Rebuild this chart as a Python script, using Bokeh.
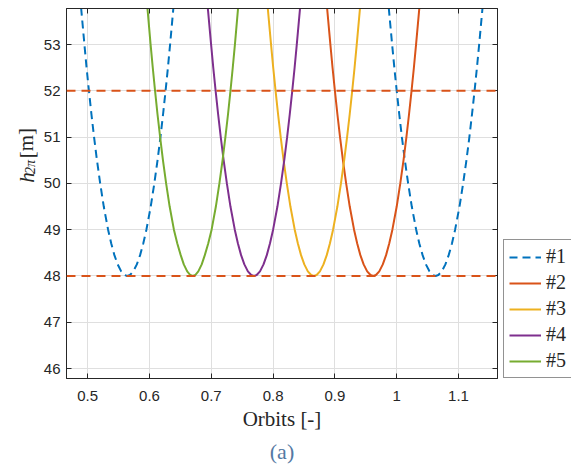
from bokeh.plotting import figure
from bokeh.layouts import row
from bokeh.models import (Range1d, Span, Legend, LegendItem, FixedTicker, Title,
                          LinearAxis)
from bokeh.core.properties import value
from bokeh.embed import file_html
from bokeh.resources import INLINE

# ---------------- data ----------------
X_TICKS = [0.5, 0.6, 0.7, 0.8, 0.9, 1.0, 1.1]
X_TICK_LABELS = ["0.5", "0.6", "0.7", "0.8", "0.9", "1", "1.1"]
Y_TICKS = [46, 47, 48, 49, 50, 51, 52, 53]
Y_TICK_LABELS = ["46", "47", "48", "49", "50", "51", "52", "53"]

LABELS = ["#1", "#2", "#3", "#4", "#5"]
THRESHOLDS = [48.0, 52.0]

# heights at which the branch positions were read (top -> bottom)
H_LEVELS = [53.8, 53.0, 52.5, 52.0, 51.5, 51.0, 50.5, 50.0, 49.5, 49.0,
            48.7, 48.45, 48.25, 48.1, 48.02]
H_MIN = 48.0

# #1 (two wells)
S1A_LEFT = [0.4893, 0.4947, 0.4982, 0.5020, 0.5060, 0.5103, 0.5150, 0.5202,
            0.5260, 0.5330, 0.5381, 0.5432, 0.5485, 0.5542, 0.5596]
S1A_MIN = 0.564
S1A_RIGHT = [0.6387, 0.6333, 0.6298, 0.6260, 0.6220, 0.6177, 0.6130, 0.6078,
             0.6020, 0.5950, 0.5899, 0.5848, 0.5795, 0.5738, 0.5684]
S1B_LEFT = [0.9871, 0.9926, 0.9962, 1.0000, 1.0041, 1.0084, 1.0132, 1.0185,
            1.0244, 1.0315, 1.0366, 1.0419, 1.0472, 1.0530, 1.0586]
S1B_MIN = 1.063
S1B_RIGHT = [1.1389, 1.1334, 1.1298, 1.1260, 1.1219, 1.1176, 1.1128, 1.1075,
             1.1016, 1.0945, 1.0894, 1.0841, 1.0788, 1.0730, 1.0674]
# #2
S2_LEFT = [0.8873, 0.8927, 0.8962, 0.9000, 0.9040, 0.9083, 0.9130, 0.9182,
           0.9240, 0.9310, 0.9361, 0.9412, 0.9465, 0.9522, 0.9576]
S2_MIN = 0.962
S2_RIGHT = [1.0367, 1.0313, 1.0278, 1.0240, 1.0200, 1.0157, 1.0110, 1.0058,
            1.0000, 0.9930, 0.9879, 0.9828, 0.9775, 0.9718, 0.9664]
# #3
S3_LEFT = [0.7913, 0.7967, 0.8002, 0.8040, 0.8080, 0.8123, 0.8170, 0.8222,
           0.8280, 0.8350, 0.8401, 0.8452, 0.8505, 0.8562, 0.8616]
S3_MIN = 0.866
S3_RIGHT = [0.9407, 0.9353, 0.9318, 0.9280, 0.9240, 0.9197, 0.9150, 0.9098,
            0.9040, 0.8970, 0.8919, 0.8868, 0.8815, 0.8758, 0.8704]
# #4
S4_LEFT = [0.6943, 0.6997, 0.7032, 0.7070, 0.7110, 0.7153, 0.7200, 0.7252,
           0.7310, 0.7380, 0.7431, 0.7482, 0.7535, 0.7592, 0.7646]
S4_MIN = 0.769
S4_RIGHT = [0.8437, 0.8383, 0.8348, 0.8310, 0.8270, 0.8227, 0.8180, 0.8128,
            0.8070, 0.8000, 0.7949, 0.7898, 0.7845, 0.7788, 0.7734]
# #5
S5_LEFT = [0.5966, 0.6018, 0.6053, 0.6090, 0.6129, 0.6172, 0.6218, 0.6269,
           0.6326, 0.6395, 0.6450, 0.6505, 0.6555, 0.6610, 0.6660]
S5_MIN = 0.670
S5_RIGHT = [0.7434, 0.7382, 0.7347, 0.7310, 0.7271, 0.7228, 0.7182, 0.7131,
            0.7074, 0.7005, 0.6950, 0.6895, 0.6845, 0.6790, 0.6740]

MINIMA = [S1A_MIN, S2_MIN, S3_MIN, S4_MIN, S5_MIN]
COLORS = ["#0072BD", "#D95319", "#EDB120", "#7E2F8E", "#77AC30"]
DASHES = ["8 5", "solid", "solid", "solid", "solid"]
TEXT = "#262626"


def well(left, xmin, right):
    xs = list(left) + [xmin] + list(reversed(right))
    ys = list(H_LEVELS) + [H_MIN] + list(reversed(H_LEVELS))
    return xs, ys


LEFT_W = 40     # panel for the y-axis label
LEG_W = 68      # panel for the legend
p = figure(width=571 - LEFT_W - LEG_W, height=467, output_backend="svg",
           toolbar_location=None,
           x_range=Range1d(0.4657, 1.1631), y_range=Range1d(45.784, 53.78),
           min_border_left=26, min_border_right=6, min_border_top=8,
           min_border_bottom=89, background_fill_color="white",
           border_fill_color="white")

p.outline_line_color = TEXT
p.outline_line_width = 1

for ax in (p.xaxis, p.yaxis):
    ax.major_tick_in = 5
    ax.major_tick_out = 0
    ax.minor_tick_line_color = None
    ax.axis_line_color = TEXT
    ax.major_tick_line_color = TEXT
    ax.major_label_text_font = "Liberation Sans"
    ax.major_label_text_font_size = "15px"
    ax.major_label_text_color = TEXT

p.xaxis.ticker = FixedTicker(ticks=X_TICKS)
p.xaxis.major_label_overrides = {t: l for t, l in zip(X_TICKS, X_TICK_LABELS)}
p.yaxis.ticker = FixedTicker(ticks=Y_TICKS)
p.yaxis.major_label_overrides = {t: l for t, l in zip(Y_TICKS, Y_TICK_LABELS)}
p.xaxis.major_label_standoff = 12
p.yaxis.major_label_standoff = 6

p.xaxis.axis_label = "Orbits [-]"
p.xaxis.axis_label_text_font = "Liberation Serif"
p.xaxis.axis_label_text_font_style = "normal"
p.xaxis.axis_label_text_font_size = "21px"
p.xaxis.axis_label_text_color = TEXT
p.xaxis.axis_label_standoff = 3

# mirrored inward ticks on the top and right edges (box on)
for loc, tk in (("above", X_TICKS), ("right", Y_TICKS)):
    mirror = LinearAxis(ticker=FixedTicker(ticks=tk), major_tick_in=5,
                        major_tick_out=0, minor_tick_line_color=None,
                        axis_line_color=TEXT, major_tick_line_color=TEXT,
                        major_label_text_font_size="0px",
                        major_label_standoff=0,
                        major_label_overrides={t: "" for t in tk})
    p.add_layout(mirror, loc)

p.xgrid.ticker = FixedTicker(ticks=X_TICKS)
p.ygrid.ticker = FixedTicker(ticks=Y_TICKS)
p.grid.grid_line_color = "#dfdfdf"
p.grid.grid_line_width = 1

# curves
x1a, y1a = well(S1A_LEFT, S1A_MIN, S1A_RIGHT)
x1b, y1b = well(S1B_LEFT, S1B_MIN, S1B_RIGHT)
p.multi_line(xs=[x1a, x1b], ys=[y1a, y1b], line_color=COLORS[0],
             line_width=2, line_dash=DASHES[0])
for (lft, mn, rgt), col in zip([(S2_LEFT, S2_MIN, S2_RIGHT),
                                (S3_LEFT, S3_MIN, S3_RIGHT),
                                (S4_LEFT, S4_MIN, S4_RIGHT),
                                (S5_LEFT, S5_MIN, S5_RIGHT)], COLORS[1:]):
    xs, ys = well(lft, mn, rgt)
    p.line(xs, ys, line_color=col, line_width=2)

for h in THRESHOLDS:
    p.add_layout(Span(location=h, dimension="width", line_color=COLORS[1],
                      line_width=2, line_dash="9 6"))

p.add_layout(Title(text="(a)", align="center",
                   text_font="Liberation Serif", text_font_size="22px",
                   text_font_style="normal", text_color="#5479a3",
                   standoff=6), "below")

# ---- legend panel (legend renderers hold only the wells' minima, which lie
#      outside this panel's own ranges so they draw nothing) ----
r = figure(width=LEG_W, height=467, output_backend="svg",
           toolbar_location=None, x_axis_type=None, y_axis_type=None,
           x_range=Range1d(0, 1), y_range=Range1d(0, 1),
           min_border_left=0, min_border_right=0, min_border_top=8,
           min_border_bottom=89,
           background_fill_color="white", border_fill_color="white")
r.outline_line_color = None
r.grid.visible = False
leg_renderers = [r.line(x=[m], y=[H_MIN], line_color=c, line_width=2,
                        line_dash=d)
                 for m, c, d in zip(MINIMA, COLORS, DASHES)]
legend = Legend(items=[LegendItem(label=l, renderers=[rr])
                       for l, rr in zip(LABELS, leg_renderers)],
                location="bottom_left", margin=0, padding=5, spacing=3,
                glyph_height=20, glyph_width=32, label_height=20,
                label_standoff=5, label_text_font="Liberation Serif",
                label_text_font_size="20px", label_text_color=TEXT,
                border_line_color=TEXT, border_line_width=1,
                background_fill_color="white", background_fill_alpha=1)
r.add_layout(legend)

# ---- y-axis label  h_{2pi} [m]  (rotated text pieces in a narrow panel) ----
q = figure(width=LEFT_W, height=467, output_backend="svg",
           toolbar_location=None, x_axis_type=None, y_axis_type=None,
           x_range=Range1d(0, LEFT_W), y_range=Range1d(467, 0),
           min_border_left=0, min_border_right=0,
           min_border_top=0, min_border_bottom=0,
           background_fill_color="white", border_fill_color="white")
q.outline_line_color = None
q.grid.visible = False
YLABEL_PARTS = ["h", "2π", "[m]"]
q.text(x=[26], y=[220], text=[YLABEL_PARTS[0]], angle=1.5708,
       text_font=value("Liberation Serif"), text_font_style="italic",
       text_font_size="21px", text_color=TEXT, text_baseline="alphabetic",
       text_align="left")
q.text(x=[30], y=[209], text=[YLABEL_PARTS[1]], angle=1.5708,
       text_font=value("Liberation Serif"), text_font_style="italic",
       text_font_size="14px", text_color=TEXT, text_baseline="alphabetic",
       text_align="left")
q.text(x=[26], y=[189], text=[YLABEL_PARTS[2]], angle=1.5708,
       text_font=value("Liberation Serif"), text_font_style="normal",
       text_font_size="21px", text_color=TEXT, text_baseline="alphabetic",
       text_align="left")

layout = row(q, p, r, spacing=0)
open("out.html", "w").write(file_html(layout, INLINE))
